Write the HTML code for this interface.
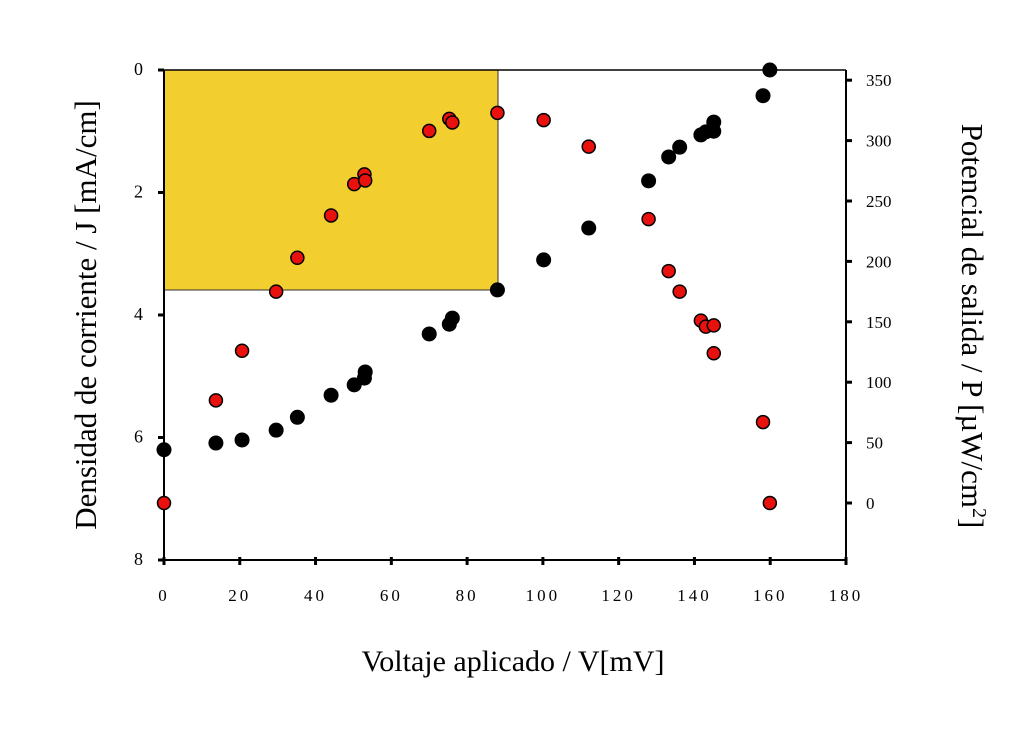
<!DOCTYPE html>
<html><head><meta charset="utf-8"><style>
html,body{margin:0;padding:0;background:#fff;}
svg{display:block;font-family:"Liberation Serif",serif;}
</style></head><body>
<svg id="chart" width="1020" height="730" viewBox="0 0 1020 730">
<rect x="164" y="70" width="334" height="220" fill="#f2cf2e" stroke="#333" stroke-width="1"/>
<g id="axes"></g>
<g id="marks"></g>
<text x="513" y="671" font-size="30" text-anchor="middle">Voltaje aplicado / V[mV]</text>
<text transform="translate(96,315) rotate(-90)" font-size="31" text-anchor="middle">Densidad de corriente / J [mA/cm]</text>
<text transform="translate(962,326) rotate(90)" font-size="31" text-anchor="middle">Potencial de salida / P [µW/cm<tspan dy="-11" font-size="20">2</tspan><tspan dy="11">]</tspan></text>
</svg>
<script>
const voltage = [0,13.7,20.6,29.6,35.2,44.1,50.2,52.9,53.1,70,75.3,76.1,88,100.2,112.1,127.9,133.2,136.1,141.7,143,145.1,145.1,158.1,159.9];
const currentJ = [6.2,6.09,6.04,5.88,5.67,5.31,5.14,5.03,4.93,4.31,4.15,4.05,3.59,3.10,2.58,1.81,1.42,1.26,1.06,1.01,0.85,1.00,0.42,0.0];
const powerP = [0,85,126,175,203,238,264,272,267,308,318,315,323,317,295,235,192,175,151,146,147,124,67,0];
const xTicks = [0,20,40,60,80,100,120,140,160,180];
const leftTicks = [0,2,4,6,8];
const rightTicks = [0,50,100,150,200,250,300,350];

const NS="http://www.w3.org/2000/svg";
const X0=164,X1=846,YT=70,YB=560;
const xs=v=>X0+(v/180)*(X1-X0);
const yl=j=>YT+(j/8)*(YB-YT);
const yr=p=>503-p*(60.4/50);
function mk(tag,attrs,parent){const e=document.createElementNS(NS,tag);for(const k in attrs)e.setAttribute(k,attrs[k]);parent.appendChild(e);return e;}
const axes=document.getElementById('axes'),marks=document.getElementById('marks');
let l;
l=mk('line',{x1:X0,y1:YB,x2:X1,y2:YB,stroke:'#000','stroke-width':2},axes);

l=mk('line',{x1:X0,y1:YT,x2:X0,y2:YB,stroke:'#000','stroke-width':2},axes);

l=mk('line',{x1:X0,y1:YT,x2:X1,y2:YT,stroke:'#000','stroke-width':1.5},axes);

l=mk('line',{x1:X1,y1:YT,x2:X1,y2:YB,stroke:'#000','stroke-width':2},axes);

xTicks.forEach(v=>{
  const t=mk('line',{x1:xs(v),y1:YB-3,x2:xs(v),y2:YB+5,stroke:'#000','stroke-width':3},axes);
  
  const tx=mk('text',{x:xs(v),y:601,'font-size':17,'text-anchor':'middle','letter-spacing':'3'},axes);
  tx.textContent=String(v);
  
});
leftTicks.forEach(v=>{
  const t=mk('line',{x1:X0-6,y1:yl(v),x2:X0,y2:yl(v),stroke:'#000','stroke-width':3},axes);
  
  const tx=mk('text',{x:143,y:yl(v)+5,'font-size':18,'text-anchor':'end'},axes);
  tx.textContent=String(v);
  
});
rightTicks.forEach(v=>{
  const t=mk('line',{x1:X1,y1:yr(v),x2:X1+6,y2:yr(v),stroke:'#000','stroke-width':3},axes);
  
  const tx=mk('text',{x:866,y:yr(v)+6,'font-size':17},axes);
  tx.textContent=String(v);
  
});
voltage.forEach((v,i)=>{
  const c=mk('circle',{cx:xs(v),cy:yl(currentJ[i]),r:7.5,fill:'#000'},marks);
  
});
voltage.forEach((v,i)=>{
  const c=mk('circle',{cx:xs(v),cy:yr(powerP[i]),r:6.5,fill:'#e8110e',stroke:'#000','stroke-width':1.5},marks);
  
});
</script>
</body></html>
